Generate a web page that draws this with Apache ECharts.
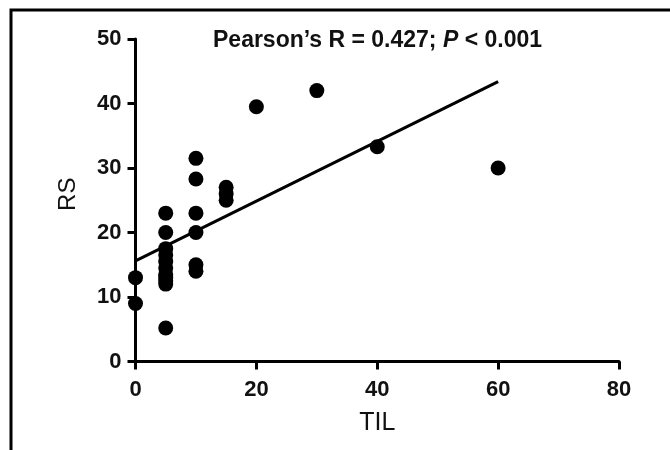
<!DOCTYPE html>
<html>
<head>
<meta charset="utf-8">
<script src="https://cdn.jsdelivr.net/npm/echarts@6/dist/echarts.min.js"></script>
<style>html,body{margin:0;padding:0;background:#fff;}#c{width:670px;height:450px;}</style>
</head>
<body>
<div id="c"></div>
<script>
const tilValues = [0, 0, 5, 5, 5, 5, 5, 5, 5, 5, 5, 5, 5, 10, 10, 10, 10, 10, 10, 15, 15, 15, 20, 30, 40, 60];
const rsValues = [13, 9, 23, 20, 17.5, 16.5, 15.5, 14.5, 13.5, 13, 12.5, 12, 5.2, 31.5, 28.3, 23, 20, 15, 14, 27, 26, 25, 39.5, 42, 33.3, 30];
const fitX = [0, 60];
const fitY = [15.6, 43.4];
const xTicks = [0, 20, 40, 60, 80];
const yTicks = [0, 10, 20, 30, 40, 50];

const font = '"Liberation Sans", Arial, sans-serif';
const chart = echarts.init(document.getElementById('c'));
chart.setOption({
  animation: false,
  backgroundColor: '#fff',
  title: {
    text: '{b|Pearson\u2019s R = 0.427; }{i|P}{b| < 0.001}',
    left: 208, top: 24,
    textStyle: {
      rich: {
        b: { fontFamily: font, fontWeight: 'bold', fontSize: 23, color: '#111' },
        i: { fontFamily: font, fontWeight: 'bold', fontStyle: 'italic', fontSize: 23, color: '#111' }
      }
    }
  },
  graphic: [{
    type: 'rect', silent: true, z: 100,
    shape: { x: 11, y: 10, width: 720, height: 520 },
    style: { fill: 'none', stroke: '#000', lineWidth: 3 }
  }],
  grid: { left: 135.5, right: 51, top: 39, bottom: 88.5 },
  xAxis: {
    type: 'value', min: xTicks[0], max: xTicks[xTicks.length - 1], interval: 20,
    name: 'TIL', nameLocation: 'middle', nameGap: 49,
    nameTextStyle: { fontFamily: font, fontSize: 25, color: '#111' },
    axisLine: { lineStyle: { color: '#000', width: 3 } },
    axisTick: { show: true, length: 8, inside: false, lineStyle: { color: '#000', width: 3 } },
    axisLabel: { margin: 17, fontFamily: font, fontWeight: 'bold', fontSize: 22, color: '#111',
      formatter: v => xTicks.includes(v) ? String(v) : '' },
    splitLine: { show: false }
  },
  yAxis: {
    type: 'value', min: yTicks[0], max: yTicks[yTicks.length - 1], interval: 10,
    name: 'RS', nameLocation: 'middle', nameGap: 55, nameRotate: 90,
    nameTextStyle: { fontFamily: font, fontSize: 24, color: '#111', padding: [0, 0, 0, 12] },
    axisLine: { show: true, lineStyle: { color: '#000', width: 3 } },
    axisTick: { show: true, length: 8, inside: false, lineStyle: { color: '#000', width: 3 } },
    axisLabel: { margin: 14, fontFamily: font, fontWeight: 'bold', fontSize: 22, color: '#111',
      formatter: v => yTicks.includes(v) ? String(v) : '' },
    splitLine: { show: false }
  },
  series: [
    {
      type: 'scatter', symbol: 'circle', symbolSize: 15,
      itemStyle: { color: '#000', opacity: 1 },
      data: tilValues.map((x, i) => [x, rsValues[i]]),
      z: 3
    },
    {
      type: 'line', symbol: 'none',
      lineStyle: { color: '#000', width: 3 },
      data: fitX.map((x, i) => [x, fitY[i]]),
      z: 4
    }
  ]
});
</script>
</body>
</html>
